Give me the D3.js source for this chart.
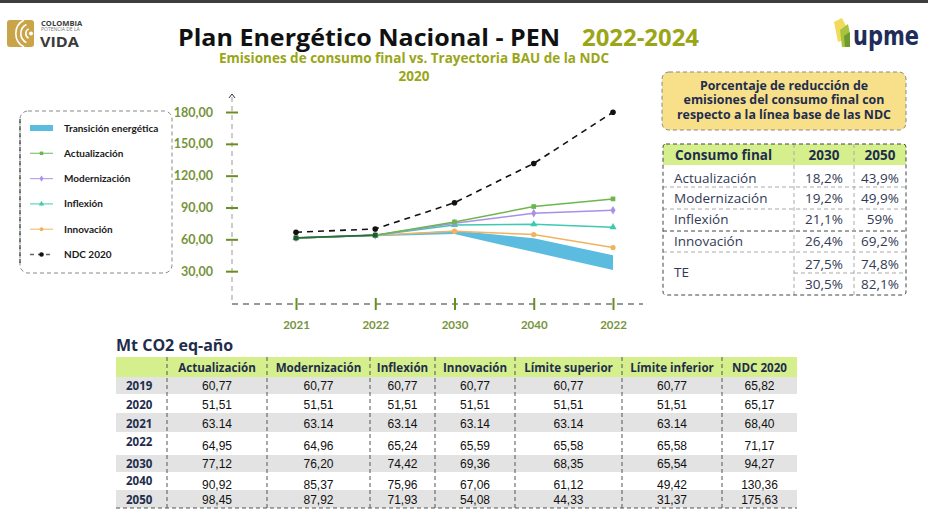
<!DOCTYPE html>
<html>
<head>
<meta charset="utf-8">
<script src="https://cdn.jsdelivr.net/npm/d3@7"></script>
<style>
  body { margin: 0; background: #fff; }
  svg { display: block; }
</style>
</head>
<body>
<div id="chart-area"></div>
<script>
// Datos del gráfico
const xLabels = ["2021", "2022", "2030", "2040", "2022"];
const yTicks = [30, 60, 90, 120, 150, 180];
const actualizacion = [61.3, 63.9, 76.4, 90.9, 98.1];
const modernizacion = [61.3, 63.9, 75.2, 84.6, 87.4];
const inflexion = [61.3, 63.9, 73.6, 74.2, 71.4];
const innovacion = [61.3, 63.9, 67.6, 64.5, 52.2];
const teSuperior = [null, 63.9, 68.3, 61.0, 45.0];
const teInferior = [null, 63.0, 65.0, 48.0, 31.0];
const ndc2020 = [66.7, 69.8, 94.5, 131.5, 179.8];

// Tabla de reducción
const reduccionHeader = ["Consumo final", "2030", "2050"];
const reduccionCats = ["Actualización", "Modernización", "Inflexión", "Innovación", "TE"];
const reduccion2030 = ["18,2%", "19,2%", "21,1%", "26,4%", "27,5%", "30,5%"];
const reduccion2050 = ["43,9%", "49,9%", "59%", "69,2%", "74,8%", "82,1%"];

// Tabla Mt CO2 eq-año
const tableHeader = ["", "Actualización", "Modernización", "Inflexión", "Innovación", "Límite superior", "Límite inferior", "NDC 2020"];
const tableYears = ["2019", "2020", "2021", "2022", "2030", "2040", "2050"];
const colActualizacion = ["60,77", "51,51", "63.14", "64,95", "77,12", "90,92", "98,45"];
const colModernizacion = ["60,77", "51,51", "63.14", "64,96", "76,20", "85,37", "87,92"];
const colInflexion = ["60,77", "51,51", "63.14", "65,24", "74,42", "75,96", "71,93"];
const colInnovacion = ["60,77", "51,51", "63.14", "65,59", "69,36", "67,06", "54,08"];
const colLimSuperior = ["60,77", "51,51", "63.14", "65,58", "68,35", "61,12", "44,33"];
const colLimInferior = ["60,77", "51,51", "63.14", "65,58", "65,54", "49,42", "31,37"];
const colNdc = ["65,82", "65,17", "68,40", "71,17", "94,27", "130,36", "175,63"];

const width = 928;
const height = 517;
const navy = "#1f2d4d";
const olive = "#9aa617";
const axisGreen = "#77933c";

const svg = d3.select("#chart-area")
    .append("svg")
    .attr("width", width)
    .attr("height", height);

svg.append("rect").attr("x", 0).attr("y", 0).attr("width", width).attr("height", 3).attr("fill", "#3d3d3d");

// Logo Colombia
const logo = svg.append("g");
logo.append("rect").attr("x", 7).attr("y", 20).attr("width", 27).attr("height", 27).attr("rx", 3).attr("fill", "#c9a449");
[6, 11, 16].forEach(r => {
    logo.append("path")
        .attr("d", d3.arc()({ innerRadius: r - 1.6, outerRadius: r, startAngle: -Math.PI * 0.85, endAngle: -Math.PI * 0.15 }))
        .attr("transform", "translate(31,33.5)")
        .attr("fill", "#fff");
});
logo.append("circle").attr("cx", 31).attr("cy", 33.5).attr("r", 2).attr("fill", "#fff");
logo.append("text").attr("x", 41).attr("y", 25.5).text("COLOMBIA")
    .attr("font-family", "Open Sans").attr("font-weight", 700).attr("font-size", 7.6).attr("fill", "#3a3a3a");
logo.append("text").attr("x", 41).attr("y", 31).text("POTENCIA DE LA")
    .attr("font-family", "Open Sans").attr("font-size", 5).attr("fill", "#777");
logo.append("text").attr("x", 40).attr("y", 47).text("VIDA")
    .attr("font-family", "Open Sans").attr("font-weight", 700).attr("font-size", 14.5)
    .attr("textLength", 39).attr("lengthAdjust", "spacingAndGlyphs").attr("fill", "#3a3a3a");

// Logo UPME
const upme = svg.append("g");
upme.append("path").attr("d", "M834,22 L842,18 L846,26 L844,40 L838,42 Z").attr("fill", "#f0dc5a");
upme.append("path").attr("d", "M840,30 L848,24 L850,34 L847,47 L842,47 Z").attr("fill", "#a9c23f");
upme.append("path").attr("d", "M844,36 L850,32 L850,47 L845,47 Z").attr("fill", "#6e9a2e");
upme.append("text").attr("x", 853).attr("y", 45).text("upme")
    .attr("font-family", "DejaVu Sans Condensed").attr("font-weight", 700).attr("font-size", 27)
    .attr("textLength", 66).attr("lengthAdjust", "spacingAndGlyphs").attr("fill", "#1f2d5a");

// Títulos
svg.append("text").attr("x", 178).attr("y", 46).text("Plan Energético Nacional - PEN")
    .attr("font-family", "Open Sans").attr("font-weight", 700).attr("font-size", 24)
    .attr("textLength", 382).attr("lengthAdjust", "spacingAndGlyphs").attr("fill", "#111");
svg.append("text").attr("x", 582).attr("y", 46).text("2022-2024")
    .attr("font-family", "Open Sans").attr("font-weight", 700).attr("font-size", 24)
    .attr("textLength", 117).attr("lengthAdjust", "spacingAndGlyphs").attr("fill", olive);

svg.append("text").attr("x", 414).attr("y", 63).attr("text-anchor", "middle")
    .text("Emisiones de consumo final vs. Trayectoria BAU de la NDC")
    .attr("font-family", "Open Sans").attr("font-weight", 700).attr("font-size", 13.5).attr("fill", olive);
svg.append("text").attr("x", 414).attr("y", 81).attr("text-anchor", "middle").text("2020")
    .attr("font-family", "Open Sans").attr("font-weight", 700).attr("font-size", 13.5).attr("fill", olive);

// Escalas
const x = d3.scalePoint().domain(d3.range(xLabels.length)).range([296, 613]);
const y = d3.scaleLinear().domain([0, 180]).range([303, 112]);

// Ejes
svg.append("line").attr("x1", 232).attr("x2", 232).attr("y1", 97).attr("y2", 304)
    .attr("stroke", "#999").attr("stroke-dasharray", "5,4");
svg.append("path").attr("d", "M229,98 L232,94 L235,98").attr("fill", "none").attr("stroke", "#333");
svg.append("line").attr("x1", 232).attr("x2", 643).attr("y1", 304).attr("y2", 304)
    .attr("stroke", "#333").attr("stroke-dasharray", "6,5");

const fmt = d => d3.format(".2f")(d).replace(".", ",");
const yAxis = svg.append("g").attr("transform", "translate(232,0)")
    .call(d3.axisLeft(y).tickValues(yTicks).tickFormat(fmt).tickSize(6).tickPadding(13));
yAxis.select(".domain").remove();
yAxis.selectAll(".tick line").attr("x1", -6).attr("x2", 6).attr("stroke", "#6b8e23").attr("stroke-width", 2);
yAxis.selectAll(".tick text").attr("font-family", "Lato").attr("font-weight", 700).attr("font-size", 12.5).attr("fill", axisGreen);

const xAxis = svg.append("g").attr("transform", "translate(0,304)")
    .call(d3.axisBottom(x).tickFormat(i => xLabels[i]).tickSize(6).tickPadding(11));
xAxis.select(".domain").remove();
xAxis.selectAll(".tick line").attr("y1", -6).attr("y2", 6).attr("stroke", "#6b8e23").attr("stroke-width", 2);
xAxis.selectAll(".tick text").attr("font-family", "Lato").attr("font-weight", 700).attr("font-size", 11.5).attr("fill", axisGreen);

// Banda de transición energética
const idx = d3.range(xLabels.length);
svg.append("path")
    .datum(idx.filter(i => teSuperior[i] !== null))
    .attr("d", d3.area().x(i => x(i)).y0(i => y(teInferior[i])).y1(i => y(teSuperior[i])))
    .attr("fill", "#5bbce0");

const series = [
    { name: "Innovación", values: innovacion, color: "#f2b35f", symbol: d3.symbolCircle },
    { name: "Inflexión", values: inflexion, color: "#3fc9b1", symbol: d3.symbolTriangle },
    { name: "Modernización", values: modernizacion, color: "#a98fe6", symbol: d3.symbolDiamond },
    { name: "Actualización", values: actualizacion, color: "#6db64f", symbol: d3.symbolSquare }
];

const line = d3.line().x(i => x(i));
series.forEach(s => {
    svg.append("path").datum(idx)
        .attr("d", line.y(i => y(s.values[i])))
        .attr("fill", "none").attr("stroke", s.color).attr("stroke-width", 1.5);
    svg.selectAll(null).data(idx).enter().append("path")
        .attr("d", d3.symbol(s.symbol, 22))
        .attr("transform", i => `translate(${x(i)},${y(s.values[i])})`)
        .attr("fill", s.color);
});

// tramo común de todas las series (se superponen)
const common = idx.filter(i => series.every(s => s.values[i] === series[0].values[i]));
svg.append("path").datum(common)
    .attr("d", line.y(i => y(actualizacion[i])))
    .attr("fill", "none").attr("stroke", "#2b6b3c").attr("stroke-width", 1.8);
svg.selectAll(null).data(common).enter().append("path")
    .attr("d", d3.symbol(d3.symbolSquare, 22))
    .attr("transform", i => `translate(${x(i)},${y(actualizacion[i])})`)
    .attr("fill", "#1f5a2e");

// NDC 2020
svg.append("path").datum(idx)
    .attr("d", line.y(i => y(ndc2020[i])))
    .attr("fill", "none").attr("stroke", "#111").attr("stroke-width", 1.6).attr("stroke-dasharray", "6,5");
svg.selectAll(null).data(idx).enter().append("circle")
    .attr("cx", i => x(i)).attr("cy", i => y(ndc2020[i])).attr("r", 2.8).attr("fill", "#111");

// Leyenda
const legend = svg.append("g");
legend.append("rect").attr("x", 20).attr("y", 111).attr("width", 152).attr("height", 162).attr("rx", 8)
    .attr("fill", "none").attr("stroke", "#888").attr("stroke-dasharray", "4,3");
legend.append("line").attr("x1", 20).attr("x2", 20).attr("y1", 119).attr("y2", 265)
    .attr("stroke", "#111").attr("stroke-dasharray", "4,3");
const legendItems = [
    { name: "Transición energética", type: "band", color: "#5bbce0" },
    { name: "Actualización", color: "#6db64f", symbol: d3.symbolSquare },
    { name: "Modernización", color: "#a98fe6", symbol: d3.symbolDiamond },
    { name: "Inflexión", color: "#3fc9b1", symbol: d3.symbolTriangle },
    { name: "Innovación", color: "#f2b35f", symbol: d3.symbolCircle },
    { name: "NDC 2020", type: "ndc", color: "#111" }
];
legendItems.forEach((d, i) => {
    const ly = 128 + i * 25.3;
    if (d.type === "band") {
        legend.append("rect").attr("x", 30).attr("y", ly - 3).attr("width", 23).attr("height", 6).attr("fill", d.color);
    } else if (d.type === "ndc") {
        legend.append("line").attr("x1", 30).attr("x2", 53).attr("y1", ly).attr("y2", ly)
            .attr("stroke", "#666").attr("stroke-width", 1.4).attr("stroke-dasharray", "4,4");
        legend.append("circle").attr("cx", 41.5).attr("cy", ly).attr("r", 2.3).attr("fill", "#111");
    } else {
        legend.append("line").attr("x1", 30).attr("x2", 53).attr("y1", ly).attr("y2", ly)
            .attr("stroke", d.color).attr("stroke-width", 1.2).attr("opacity", 0.8);
        legend.append("path").attr("d", d3.symbol(d.symbol, 12)).attr("transform", `translate(41.5,${ly})`).attr("fill", d.color);
    }
    legend.append("text").attr("x", 64).attr("y", ly + 3.5).text(d.name)
        .attr("font-family", "Lato").attr("font-weight", 700).attr("font-size", 10).attr("fill", "#1a1a1a");
});

// Cuadro amarillo
svg.append("rect").attr("x", 662).attr("y", 72).attr("width", 244).attr("height", 58).attr("rx", 7)
    .attr("fill", "#f8e08a").attr("stroke", "#888").attr("stroke-dasharray", "4,3");
["Porcentaje de reducción de", "emisiones del consumo final con", "respecto a la línea base de las NDC"].forEach((t, i) => {
    svg.append("text").attr("x", 784).attr("y", 89.5 + i * 14.8).attr("text-anchor", "middle").text(t)
        .attr("font-family", "Open Sans").attr("font-weight", 700).attr("font-size", 12.4).attr("fill", navy);
});

// Tabla de reducción
const rt = svg.append("g");
const rtCols = [663, 794, 854, 906];
const rtRows = [144, 165, 187, 209, 231, 252, 273, 295];
rt.append("rect").attr("x", rtCols[0]).attr("y", rtRows[0]).attr("width", rtCols[3] - rtCols[0]).attr("height", rtRows[1] - rtRows[0])
    .attr("fill", "#d5ef8c");
reduccionHeader.forEach((h, i) => {
    rt.append("text").attr("x", i === 0 ? 675 : (rtCols[i] + rtCols[i + 1]) / 2).attr("y", 160)
        .attr("text-anchor", i === 0 ? "start" : "middle").text(h)
        .attr("font-family", "Open Sans").attr("font-weight", 700).attr("font-size", 13.5).attr("fill", navy);
});
const dash = sel => sel.attr("stroke", "#aaa").attr("stroke-dasharray", "4,3").attr("stroke-width", 1);
[2, 3, 5].forEach(r => dash(rt.append("line").attr("x1", rtCols[0]).attr("x2", rtCols[3]).attr("y1", rtRows[r]).attr("y2", rtRows[r])));
rt.append("line").attr("x1", rtCols[0]).attr("x2", rtCols[3]).attr("y1", rtRows[4]).attr("y2", rtRows[4])
    .attr("stroke", "#444").attr("stroke-dasharray", "4,3");
dash(rt.append("line").attr("x1", rtCols[1]).attr("x2", rtCols[3]).attr("y1", rtRows[6]).attr("y2", rtRows[6]));
[1, 2].forEach(c => dash(rt.append("line").attr("x1", rtCols[c]).attr("x2", rtCols[c]).attr("y1", rtRows[0]).attr("y2", rtRows[7])));
rt.append("rect").attr("x", rtCols[0]).attr("y", rtRows[0]).attr("width", rtCols[3] - rtCols[0]).attr("height", rtRows[7] - rtRows[0])
    .attr("rx", 3).attr("fill", "none").attr("stroke", "#444").attr("stroke-dasharray", "4,3");
const catY = [183, 203, 224, 245.5, 277];
reduccionCats.forEach((c, i) => {
    rt.append("text").attr("x", 674).attr("y", catY[i]).text(c)
        .attr("font-family", "Open Sans").attr("font-size", 13.5).attr("fill", "#333a55");
});
const valY = [183, 203, 224, 245.5, 268.5, 289];
reduccion2030.forEach((v, i) => {
    rt.append("text").attr("x", 824).attr("y", valY[i]).attr("text-anchor", "middle").text(v)
        .attr("font-family", "Open Sans").attr("font-size", 13.5).attr("fill", "#333a55");
    rt.append("text").attr("x", 880).attr("y", valY[i]).attr("text-anchor", "middle").text(reduccion2050[i])
        .attr("font-family", "Open Sans").attr("font-size", 13.5).attr("fill", "#333a55");
});

// Tabla Mt CO2 eq-año
svg.append("text").attr("x", 116).attr("y", 351).text("Mt CO2 eq-año")
    .attr("font-family", "Open Sans").attr("font-weight", 700).attr("font-size", 16).attr("fill", navy);
const bt = svg.append("g");
const btCols = [116, 167, 267, 370, 435, 515, 622, 722, 797];
const btRows = [357, 377, 394, 413, 432, 455, 472, 490, 508];
const btCells = [colActualizacion, colModernizacion, colInflexion, colInnovacion, colLimSuperior, colLimInferior, colNdc];
bt.append("rect").attr("x", btCols[0]).attr("y", btRows[0]).attr("width", btCols[8] - btCols[0]).attr("height", btRows[1] - btRows[0])
    .attr("fill", "#d5ef8c");
tableYears.forEach((yr, r) => {
    if (r % 2 === 0) {
        bt.append("rect").attr("x", btCols[0]).attr("y", btRows[r + 1]).attr("width", btCols[8] - btCols[0])
            .attr("height", btRows[r + 2] - btRows[r + 1]).attr("fill", "#e3e3e3");
    }
});
d3.range(1, 8).forEach(c => bt.append("line").attr("x1", btCols[c]).attr("x2", btCols[c]).attr("y1", btRows[0]).attr("y2", btRows[8])
    .attr("stroke", "#555").attr("stroke-dasharray", "4,3"));
bt.append("line").attr("x1", btCols[0]).attr("x2", btCols[8]).attr("y1", btRows[8]).attr("y2", btRows[8])
    .attr("stroke", "#555").attr("stroke-dasharray", "4,3");
tableHeader.forEach((h, c) => {
    bt.append("text").attr("x", (btCols[c] + btCols[c + 1]) / 2).attr("y", 372).attr("text-anchor", "middle").text(h)
        .attr("font-family", "Open Sans").attr("font-weight", 700).attr("font-size", 11.6).attr("fill", navy);
});
const yearY = [389.5, 408.5, 428, 446, 468, 485, 504];
const cellY = [389.5, 408.5, 428, 449.5, 468, 488.5, 504];
tableYears.forEach((yr, r) => {
    bt.append("text").attr("x", 126).attr("y", yearY[r]).text(yr)
        .attr("font-family", "Open Sans").attr("font-weight", 700).attr("font-size", 11.5).attr("fill", navy);
    btCells.forEach((col, c) => {
        bt.append("text").attr("x", (btCols[c + 1] + btCols[c + 2]) / 2).attr("y", cellY[r]).attr("text-anchor", "middle")
            .text(col[r]).attr("font-family", "Liberation Sans").attr("font-size", 12).attr("fill", "#111");
    });
});
</script>
</body>
</html>
